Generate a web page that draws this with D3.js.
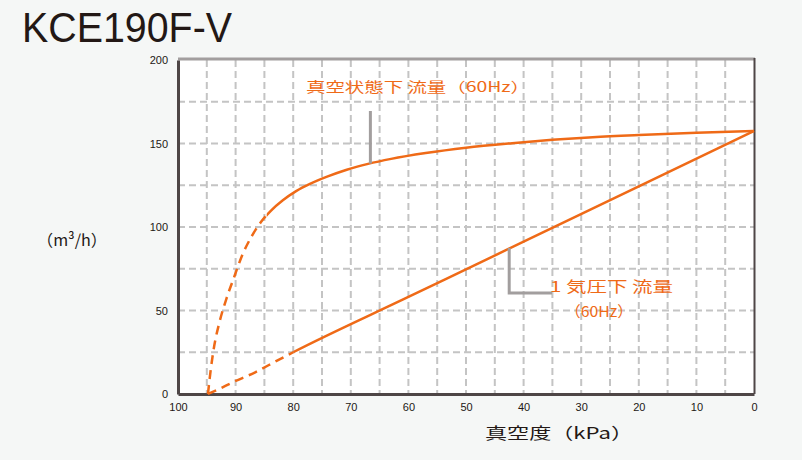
<!DOCTYPE html>
<html><head><meta charset="utf-8">
<script src="https://cdn.jsdelivr.net/npm/d3@7"></script>
<style>
html,body{margin:0;padding:0;background:#f5f7f6;}
svg{display:block;}
</style></head>
<body>
<svg id="c" width="802" height="460"></svg>
<script>
const title = "KCE190F-V";
const xTicks = [100,90,80,70,60,50,40,30,20,10,0];
const yTicks = [0,50,100,150,200];
// Vacuum-state flow (60Hz) [kPa, m3/h]; dashed where kPa > vacuumSplit
const vacuumFlow = [[94.8,0],[94.3,15],[93.7,29],[92.8,43],[91.6,57],[90.2,70.5],[88.8,83.5],[87.2,94.5],[85.6,103],[83.8,110],[81.8,116],[79.5,121.5],[77,126],[74,130.3],[70.7,134.3],[67,137.8],[63,140.8],[57,144.3],[50,147.5],[42,150.2],[35,152.2],[28,153.8],[20,155.1],[10,156.4],[0,157.5]];
const vacuumSplit = 84.6;
// 1 atm flow (60Hz); dashed where kPa > atmSplit
const atmFlow = [[94.8,0],[93,2.8],[90.5,7],[86.6,13],[82.8,20],[80,25],[60,58.1],[40,91.2],[20,124.4],[0,157.5]];
const atmSplit = 80;
const label1 = "真空状態下 流量（60Hz）";
const label2a = "1 気圧下 流量";
const label2b = "（60Hz）";
const xLabel = "真空度（kPa）";
const yLabel = "（m³/h）";

const svg = d3.select("#c");
const L=178, R=754, T=60, B=394;
const x = d3.scaleLinear().domain([100,0]).range([L,R]);
const y = d3.scaleLinear().domain([0,200]).range([B,T]);
const orange = "#ef6a17";
const font = "'Noto Sans CJK JP','Liberation Sans',Arial,sans-serif";

svg.append("rect").attr("x",L).attr("y",T).attr("width",R-L).attr("height",B-T).attr("fill","#fff");

// grid
const gx = d3.range(95,0,-5);
svg.append("g").selectAll("line").data(gx).join("line")
  .attr("x1",d=>x(d)).attr("x2",d=>x(d)).attr("y1",T).attr("y2",B)
  .attr("stroke","#c4c4c4").attr("stroke-width",2).attr("stroke-dasharray","7,4");
const gy = d3.range(25,200,25);
svg.append("g").selectAll("line").data(gy).join("line")
  .attr("x1",L).attr("x2",R).attr("y1",d=>y(d)).attr("y2",d=>y(d))
  .attr("stroke","#c4c4c4").attr("stroke-width",2).attr("stroke-dasharray","7,4");

// borders
svg.append("line").attr("x1",L).attr("x2",R+1).attr("y1",T-1).attr("y2",T-1).attr("stroke","#a29e9e").attr("stroke-width",3);
svg.append("line").attr("x1",R+0.5).attr("x2",R+0.5).attr("y1",T-2).attr("y2",B).attr("stroke","#4e4646").attr("stroke-width",2);

// axes
const xAxis = d3.axisBottom(x).tickValues(xTicks).tickSize(0).tickPadding(9);
const yAxis = d3.axisLeft(y).tickValues(yTicks).tickSize(0).tickPadding(10);
const ga = svg.append("g").attr("transform",`translate(0,${B})`).call(xAxis);
const gb = svg.append("g").attr("transform",`translate(${L},0)`).call(yAxis);
[ga,gb].forEach(g=>{
  g.select(".domain").attr("stroke","#4e4646").attr("stroke-width",3);
  g.selectAll("text").attr("font-family","'Liberation Sans',Arial,sans-serif").attr("font-size",11).attr("fill","#231815");
});

// clip paths for dashed/solid split
const defs = svg.append("defs");
function clips(id, split){
  defs.append("clipPath").attr("id",id+"D").append("rect").attr("x",0).attr("y",0).attr("width",x(split)).attr("height",460);
  defs.append("clipPath").attr("id",id+"S").append("rect").attr("x",x(split)).attr("y",0).attr("width",802-x(split)).attr("height",460);
}
clips("v",vacuumSplit); clips("a",atmSplit);

const line = d3.line().x(d=>x(d[0])).y(d=>y(d[1])).curve(d3.curveMonotoneX);
function drawCurve(data,id){
  const d = line(data);
  svg.append("path").attr("d",d).attr("clip-path",`url(#${id}D)`).attr("fill","none").attr("stroke",orange).attr("stroke-width",2.5).attr("stroke-dasharray","9,6");
  svg.append("path").attr("d",d).attr("clip-path",`url(#${id}S)`).attr("fill","none").attr("stroke",orange).attr("stroke-width",2.5);
}
drawCurve(vacuumFlow,"v");
drawCurve(atmFlow,"a");

// callouts
svg.append("line").attr("x1",x(66.6)).attr("x2",x(66.6)).attr("y1",111).attr("y2",y(138)).attr("stroke","#a29e9e").attr("stroke-width",3);
svg.append("polyline").attr("points",`${x(42.5)},${y(87.5)} ${x(42.5)},293 552,293`).attr("fill","none").attr("stroke","#a29e9e").attr("stroke-width",3);

svg.append("text").attr("x",306).attr("y",92).text(label1).attr("font-family",font).attr("font-size",14).attr("fill",orange).attr("textLength",224).attr("lengthAdjust","spacingAndGlyphs");
svg.append("text").attr("x",550).attr("y",292).text(label2a).attr("font-family",font).attr("font-size",15).attr("fill",orange).attr("textLength",123).attr("lengthAdjust","spacingAndGlyphs");
svg.append("text").attr("x",565).attr("y",317).text(label2b).attr("font-family",font).attr("font-size",15).attr("fill",orange).attr("textLength",68).attr("lengthAdjust","spacingAndGlyphs");

// axis titles
svg.append("text").attr("x",485).attr("y",439).text(xLabel).attr("font-family",font).attr("font-size",16).attr("fill","#231815").attr("textLength",148).attr("lengthAdjust","spacingAndGlyphs");
svg.append("text").attr("x",37).attr("y",246).text(yLabel).attr("font-family",font).attr("font-size",16).attr("fill","#231815").attr("textLength",70).attr("lengthAdjust","spacingAndGlyphs");

// title
svg.append("text").attr("x",22).attr("y",42).text(title).attr("font-family","'Liberation Sans',Arial,sans-serif").attr("font-size",43).attr("fill","#231815").attr("textLength",210).attr("lengthAdjust","spacingAndGlyphs");
</script>
</body></html>
